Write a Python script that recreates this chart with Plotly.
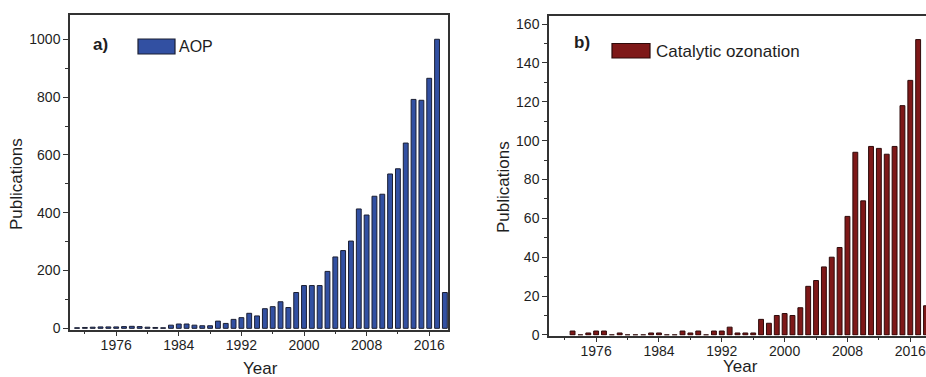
import plotly.graph_objects as go

W, H = 926, 377

# ---- data ----
aop_years = list(range(1971, 2019))
aop_values = [2, 3, 4, 5, 5, 5, 6, 7, 6, 4, 3, 2, 11, 15, 15, 11, 9, 9, 25, 17,
              31, 37, 52, 43, 68, 75, 92, 72, 124, 148, 148, 148, 197, 247, 269,
              302, 413, 392, 457, 464, 534, 552, 641, 792, 789, 865, 1000, 124]

cat_years = list(range(1973, 2019))
cat_values = [2, 0, 1, 2, 2, 0, 1, 0, 0, 0, 1, 1, 0, 0, 2, 1, 2, 0, 2, 2,
              4, 1, 1, 1, 8, 6, 10, 11, 10, 14, 25, 28, 35, 40, 45, 61, 94, 69,
              97, 96, 93, 97, 118, 131, 152, 15]

x_ticks = [1976, 1984, 1992, 2000, 2008, 2016]
y_ticks_a = [0, 200, 400, 600, 800, 1000]
y_ticks_b = [0, 20, 40, 60, 80, 100, 120, 140, 160]

BLUE = "#3250a2"
RED = "#7e1818"
TXT = "#1e1e1e"
AX = "#333333"
FONT = "Liberation Sans, Arial, sans-serif"


def px(x):
    return x / W


def py(y):
    return 1 - y / H


fig = go.Figure()
fig.add_trace(go.Bar(x=aop_years, y=aop_values, width=0.62,
                     marker=dict(color=BLUE, line=dict(color="#1b1f33", width=1)),
                     xaxis="x", yaxis="y", showlegend=False))
fig.add_trace(go.Bar(x=cat_years, y=cat_values, width=0.62,
                     marker=dict(color=RED, line=dict(color="#2e0a0a", width=1)),
                     xaxis="x2", yaxis="y2", showlegend=False))

common_x = dict(showline=True, linecolor=AX, linewidth=1.5, ticks="outside",
                ticklen=5, tickwidth=1.2, tickcolor=AX, tickvals=x_ticks,
                showgrid=False, zeroline=False, automargin=False,
                ticklabelstandoff=-3, ticklabeloverflow="allow",
                tickfont=dict(family=FONT, size=14, color=TXT),
                minor=dict(dtick=4, tick0=1972, ticks="outside", ticklen=3,
                           tickcolor=AX, tickwidth=1, showgrid=False))
common_y = dict(showline=True, linecolor=AX, linewidth=1.5, ticks="outside",
                ticklen=5, tickwidth=1.2, tickcolor=AX, showgrid=False,
                zeroline=False, automargin=False,
                tickfont=dict(family=FONT, size=14, color=TXT))


def ann(text, x, y, size, xanchor="center", angle=0):
    return dict(text=text, x=px(x), y=py(y), xref="paper", yref="paper",
                xanchor=xanchor, yanchor="middle", textangle=angle,
                showarrow=False, font=dict(family=FONT, size=size, color=TXT))


fig.update_layout(
    width=W, height=H,
    margin=dict(l=0, r=0, t=0, b=0, autoexpand=False),
    paper_bgcolor="white", plot_bgcolor="white",
    xaxis=dict(domain=[px(70), px(448)], range=[1970.1, 2018.4], anchor="y",
               mirror=True, **common_x),
    yaxis=dict(domain=[py(329.5), py(15)], range=[-4, 1084], anchor="x",
               mirror=True, tickvals=y_ticks_a,
               minor=dict(dtick=100, ticks="outside", ticklen=3, tickcolor=AX,
                          tickwidth=1, showgrid=False),
               **common_y),
    xaxis2=dict(domain=[px(549), 1.0], range=[1970.0, 2018.0], anchor="y2",
                mirror=True, **common_x),
    yaxis2=dict(domain=[py(335.5), py(15.5)], range=[-0.3, 164.4], anchor="x2",
                mirror=False, tickvals=y_ticks_b,
                minor=dict(dtick=10, ticks="outside", ticklen=3, tickcolor=AX,
                           tickwidth=1, showgrid=False),
                **common_y),
    shapes=[
        dict(type="rect", xref="paper", yref="paper",
             x0=px(138), x1=px(175), y0=py(54), y1=py(39),
             fillcolor=BLUE, line=dict(color="#1b1f33", width=1.2)),
        dict(type="rect", xref="paper", yref="paper",
             x0=px(612), x1=px(650), y0=py(58), y1=py(43.5),
             fillcolor=RED, line=dict(color="#2e0a0a", width=1.2)),
    ],
    annotations=[
        ann("<b>a)</b>", 100, 44, 17),
        ann("AOP", 177, 46.5, 16, xanchor="left"),
        ann("<b>b)</b>", 582, 43, 17),
        ann("Catalytic ozonation", 654, 51, 17, xanchor="left"),
        ann("Publications", 17, 184, 17, angle=-90),
        ann("Publications", 503, 187, 17, angle=-90),
        ann("Year", 260, 368, 17),
        ann("Year", 740, 366.5, 17),
    ],
)

fig.write_html("out.html",
               config={"displayModeBar": False},
               post_script="document.body.style.margin='0';"
                           "document.body.style.overflow='hidden';")
